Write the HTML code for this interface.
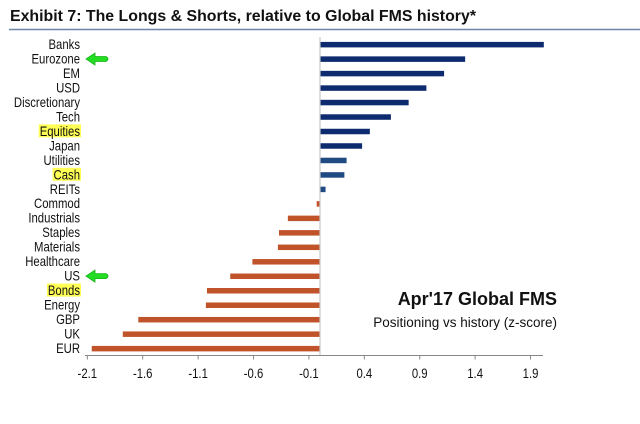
<!DOCTYPE html>
<html><head><meta charset="utf-8"><style>
body{margin:0;background:#fff;}
svg text{font-family:"Liberation Sans",Arial,sans-serif;}
</style></head><body>
<svg id="chart" width="640" height="419" xmlns="http://www.w3.org/2000/svg">
<text x="10" y="21" font-size="16" font-weight="bold" fill="#111" textLength="466" lengthAdjust="spacingAndGlyphs">Exhibit 7: The Longs &amp; Shorts, relative to Global FMS history*</text>
<line x1="9" y1="29.5" x2="640" y2="29.5" stroke="#6f86a8" stroke-width="1.5"/>
<g id="bars"></g>
<g id="labels"></g>
<g id="ticks"></g>
<text x="557" y="305" font-size="18" font-weight="bold" text-anchor="end" fill="#111">Apr'17 Global FMS</text>
<text x="557" y="327" font-size="13.5" text-anchor="end" fill="#111">Positioning vs history (z-score)</text>
</svg>
<script>
const categories = ["Banks","Eurozone","EM","USD","Discretionary","Tech","Equities","Japan","Utilities","Cash","REITs","Commod","Industrials","Staples","Materials","Healthcare","US","Bonds","Energy","GBP","UK","EUR"];
const values = [2.02,1.31,1.12,0.96,0.80,0.64,0.45,0.38,0.24,0.22,0.05,-0.03,-0.29,-0.37,-0.38,-0.61,-0.81,-1.02,-1.03,-1.64,-1.78,-2.06];
const highlighted = ["Equities","Cash","Bonds"];
const arrowed = ["Eurozone","US"];
const tickValues = [-2.1,-1.6,-1.1,-0.6,-0.1,0.4,0.9,1.4,1.9];
const tickLabels = ["-2.1","-1.6","-1.1","-0.6","-0.1","0.4","0.9","1.4","1.9"];

const NS="http://www.w3.org/2000/svg";
const x0=320, pxPerUnit=110.8, SX=0.84;
function xScale(v){return x0+v*pxPerUnit;}
const rowTop=44.5, rowStep=(348.5-44.5)/21;
function yScale(i){return rowTop+i*rowStep;}
function mk(tag,attrs,parent){const e=document.createElementNS(NS,tag);for(const k in attrs)e.setAttribute(k,attrs[k]);parent.appendChild(e);return e;}
const gb=document.getElementById('bars'),gl=document.getElementById('labels'),gt=document.getElementById('ticks');

categories.forEach((c,i)=>{
  const v=values[i], y=yScale(i);
  const xa=Math.min(xScale(0),xScale(v)), w=Math.abs(xScale(v)-xScale(0));
  const col = v>=0 ? (i<8?"#0d2b6e":"#1f4a82") : "#c1532a";
  const r=mk('rect',{x:xa,y:y-2.6,width:Math.max(w,1),height:5.5,fill:col},gb);
  
  
  const hl = highlighted.includes(c) ? mk('rect',{y:y-7,height:13,fill:"#ffff55"},gl) : null;
  const g=mk('g',{transform:`translate(80,${y+4.5}) scale(${SX},1)`},gl);
  const t=mk('text',{x:0,y:0,'font-size':13.5,'text-anchor':'end',fill:'#111'},g);
  t.textContent=c;
  
  
  if(hl){
    const wid=t.getComputedTextLength()*SX+2;
    hl.setAttribute('x',81-wid);hl.setAttribute('width',wid);
    
    
  }
  if(arrowed.includes(c)){
    const a=mk('path',{d:`M86 ${y} L95 ${y-6} L95 ${y-2.5} L106 ${y-2.5} Q110 ${y} 106 ${y+2.5} L95 ${y+2.5} L95 ${y+6} Z`,fill:"#22dd22",stroke:"#19b319","stroke-width":0.8},gl);
    
    
  }
});
const zl=mk('line',{x1:x0,y1:37,x2:x0,y2:355,stroke:'#c8c8c8','stroke-width':1.2},gb);


const ax=mk('line',{x1:85,y1:355.5,x2:543,y2:355.5,stroke:'#888','stroke-width':1},gt);


tickValues.forEach((v,i)=>{
  const x=xScale(v);
  const tk=mk('line',{x1:x,y1:355,x2:x,y2:359.5,stroke:'#888','stroke-width':1},gt);
  
  
  const g=mk('g',{transform:`translate(${x},378) scale(${SX},1)`},gt);
  const t=mk('text',{x:0,y:0,'font-size':13.5,'text-anchor':'middle',fill:'#111'},g);
  t.textContent=tickLabels[i];
  
  
});
</script>
</body></html>
